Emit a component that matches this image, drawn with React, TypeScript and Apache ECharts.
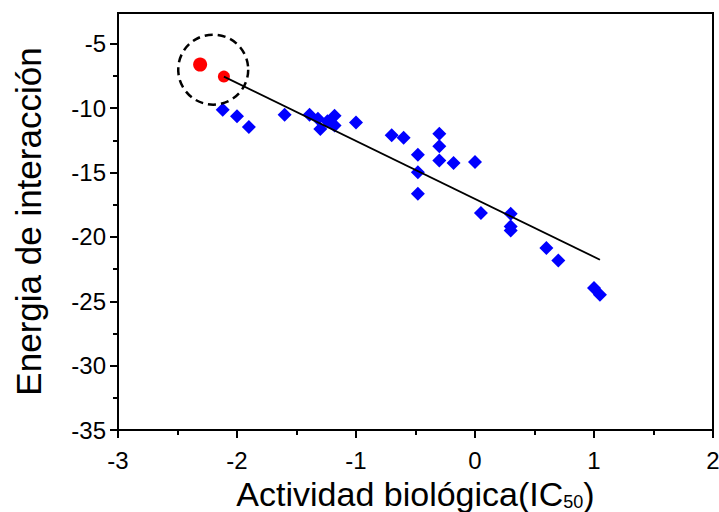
import React, { useEffect, useRef } from "react";
import * as echarts from "echarts";

const xTicks = [-3, -2, -1, 0, 1, 2];
const yTicks = [-35, -30, -25, -20, -15, -10, -5];
const yMinorTicks = [-32.5, -27.5, -22.5, -17.5, -12.5, -7.5];

const activity = [-2.12, -2.0, -1.9, -1.6, -1.39, -1.32, -1.3, -1.24, -1.18, -1.18, -1.0, -0.7, -0.6, -0.48, -0.48, -0.48, -0.3, -0.3, -0.3, -0.18, 0.0, 0.05, 0.3, 0.3, 0.3, 0.6, 0.7, 1.0, 1.05];
const energy = [-10.11, -10.63, -11.45, -10.5, -10.5, -10.81, -11.61, -11.02, -10.58, -11.35, -11.1, -12.09, -12.29, -13.61, -14.97, -16.64, -11.98, -12.96, -14.07, -14.25, -14.18, -18.14, -18.2, -19.18, -19.49, -20.86, -21.83, -23.97, -24.49];

const highlightX = [-2.31, -2.11];
const highlightY = [-6.61, -7.54];

const fitX = [-2.11, 1.05];
const fitY = [-7.54, -21.77];

const circleX = [-2.2];
const circleY = [-7.0];

const FONT = "'Liberation Sans', Arial, sans-serif";

export default function App() {
  const ref = useRef<HTMLDivElement>(null);
  useEffect(() => {
    document.body.style.margin = "0";
    if (!ref.current) return;
    const chart = echarts.init(ref.current, null, { renderer: "svg" });
    const black = "#000";
    chart.setOption({
      animation: false,
      backgroundColor: "#fff",
      grid: {
        left: 118,
        right: 6,
        top: 13,
        bottom: 82,
        containLabel: false,
        outerBoundsMode: "none",
        show: true,
        borderColor: black,
        borderWidth: 2,
        backgroundColor: "transparent",
      },
      xAxis: {
        type: "value",
        min: xTicks[0],
        max: xTicks[xTicks.length - 1],
        interval: 1,
        axisLine: { show: true, onZero: false, lineStyle: { color: black, width: 2 } },
        axisTick: { show: true, inside: false, length: 8, lineStyle: { color: black, width: 2 } },
        minorTick: { show: true, splitNumber: 2, length: 5, lineStyle: { color: black, width: 2 } },
        splitLine: { show: false },
        axisLabel: { color: black, fontSize: 24, fontFamily: FONT, margin: 18 },
        name: "{a|Actividad biológica(IC}{s|50}{a|)}",
        nameLocation: "middle",
        nameGap: 27,
        nameTextStyle: {
          rich: {
            a: { fontSize: 34, fontFamily: FONT, color: black, lineHeight: 34, verticalAlign: "top" },
            s: { fontSize: 18, fontFamily: FONT, color: black, lineHeight: 16, verticalAlign: "top", padding: [16, 0, 0, 0] },
          },
        },
      },
      yAxis: [
        {
          type: "value",
          min: -35,
          max: -2.6,
          interval: 5,
          axisLine: { show: true, onZero: false, lineStyle: { color: black, width: 2 } },
          axisTick: { show: true, inside: false, length: 8, customValues: yTicks, lineStyle: { color: black, width: 2 } },
          splitLine: { show: false },
          axisLabel: { color: black, fontSize: 24, fontFamily: FONT, margin: 12, customValues: yTicks },
          name: "Energia de interacción",
          nameLocation: "middle",
          nameGap: 72,
          nameTextStyle: { fontSize: 35, fontFamily: FONT, color: black },
        },
        {
          type: "value",
          min: -35,
          max: -2.6,
          position: "left",
          axisLine: { show: false, onZero: false },
          axisTick: { show: true, inside: false, length: 5, customValues: yMinorTicks, lineStyle: { color: black, width: 2 } },
          axisLabel: { show: false },
          splitLine: { show: false },
        },
      ],
      series: [
        {
          type: "scatter",
          symbol: "diamond",
          symbolSize: 14,
          itemStyle: { color: "#0000ff", opacity: 1 },
          data: activity.map((x, i) => [x, energy[i]]),
          z: 2,
        },
        {
          type: "scatter",
          symbol: "circle",
          symbolSize: (_v: any, p: any) => (p.dataIndex === 0 ? 14 : 12),
          itemStyle: { color: "#ff0000", opacity: 1 },
          data: highlightX.map((x, i) => [x, highlightY[i]]),
          z: 3,
        },
        {
          type: "line",
          symbol: "none",
          lineStyle: { color: black, width: 1.8 },
          data: fitX.map((x, i) => [x, fitY[i]]),
          z: 4,
        },
        {
          type: "scatter",
          symbol: "circle",
          symbolSize: 70,
          itemStyle: { color: "transparent", opacity: 1, borderColor: black, borderWidth: 2.5, borderType: [8, 5] },
          data: circleX.map((x, i) => [x, circleY[i]]),
          z: 5,
        },
      ],
    });
    return () => chart.dispose();
  }, []);
  return <div ref={ref} style={{ width: 719, height: 512 }} />;
}
